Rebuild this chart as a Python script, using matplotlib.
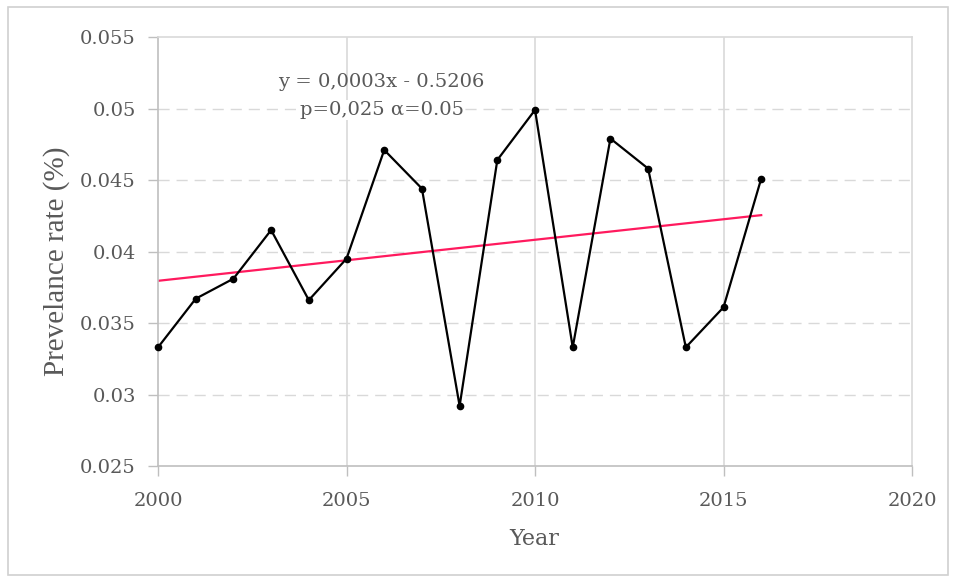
import numpy as np
import matplotlib
matplotlib.use("Agg")
import matplotlib.pyplot as plt
from matplotlib.patches import Rectangle

# Annual prevalence rate
years = [2000, 2001, 2002, 2003, 2004, 2005, 2006, 2007, 2008,
         2009, 2010, 2011, 2012, 2013, 2014, 2015, 2016]
prevalence = [0.0333, 0.0367, 0.0381, 0.0415, 0.0366, 0.0395, 0.0471, 0.0444, 0.0292,
              0.0464, 0.0499, 0.0333, 0.0479, 0.0458, 0.0333, 0.0361, 0.0451]

x_ticks = [2000, 2005, 2010, 2015, 2020]
y_ticks = [0.025, 0.03, 0.035, 0.04, 0.045, 0.05, 0.055]
y_tick_labels = ["0.025", "0.03", "0.035", "0.04", "0.045", "0.05", "0.055"]
equation_text = "y = 0,0003x - 0.5206"
stats_text = "p=0,025 \u03b1=0.05"

tick_font = "DejaVu Serif"
label_font = "Liberation Serif"
text_gray = "#595959"
grid_gray = "#d9d9d9"

fig = plt.figure(figsize=(9.56, 5.82), dpi=100)
fig.patch.set_facecolor("white")
fig.add_artist(Rectangle((0.008, 0.012), 0.984, 0.976, transform=fig.transFigure,
                         fill=False, edgecolor="#d0d0d0", linewidth=1.2))

ax = fig.add_axes([0.1653, 0.1993, 0.7887, 0.7371])
ax.set_xlim(2000, 2020)
ax.set_ylim(0.025, 0.055)

ax.set_xticks(x_ticks)
ax.set_xticklabels([str(v) for v in x_ticks], fontfamily=tick_font, fontsize=14, color=text_gray)
ax.set_yticks(y_ticks)
ax.set_yticklabels(y_tick_labels, fontfamily=tick_font, fontsize=14, color=text_gray)
ax.tick_params(axis="both", length=7, color="#bfbfbf", width=1)
ax.tick_params(axis="x", pad=12)
ax.tick_params(axis="y", pad=9)

# grid: dashed horizontals, solid verticals
for yv in y_ticks[1:-1]:
    ax.axhline(yv, color=grid_gray, lw=1.0, ls=(0, (8, 5)), zorder=0)
for xv in x_ticks[1:-1]:
    ax.axvline(xv, color=grid_gray, lw=1.2, zorder=0)
for side in ["top", "right"]:
    ax.spines[side].set_color(grid_gray)
    ax.spines[side].set_linewidth(1.2)
for side in ["left", "bottom"]:
    ax.spines[side].set_color("#bfbfbf")
    ax.spines[side].set_linewidth(1.2)

# observed series
ax.plot(years, prevalence, color="black", lw=1.6, marker="o", markersize=4.5, zorder=3,
        clip_on=False)

# linear trend
coef = np.polyfit(years, prevalence, 1)
trend_x = np.array([years[0], years[-1]])
ax.plot(trend_x, np.polyval(coef, trend_x), color="#ff1a5e", lw=1.6, zorder=2)

ax.text(2005.93, 0.05185, equation_text, fontfamily=tick_font, fontsize=14,
        color=text_gray, ha="center", va="center", zorder=4)
ax.text(2005.93, 0.0499, stats_text, fontfamily=tick_font, fontsize=14,
        color=text_gray, ha="center", va="center", zorder=4,
        bbox=dict(facecolor="white", edgecolor="none", pad=0.5))

ax.set_xlabel("Year", fontfamily=tick_font, fontsize=16, color=text_gray)
ax.xaxis.set_label_coords(0.4987, -0.1445)
ax.set_ylabel("Prevelance rate (%)", fontfamily=label_font, fontsize=21, color=text_gray)
ax.yaxis.set_label_coords(-0.1167, 0.478)

fig.savefig("out.png", dpi=100, facecolor="white")
